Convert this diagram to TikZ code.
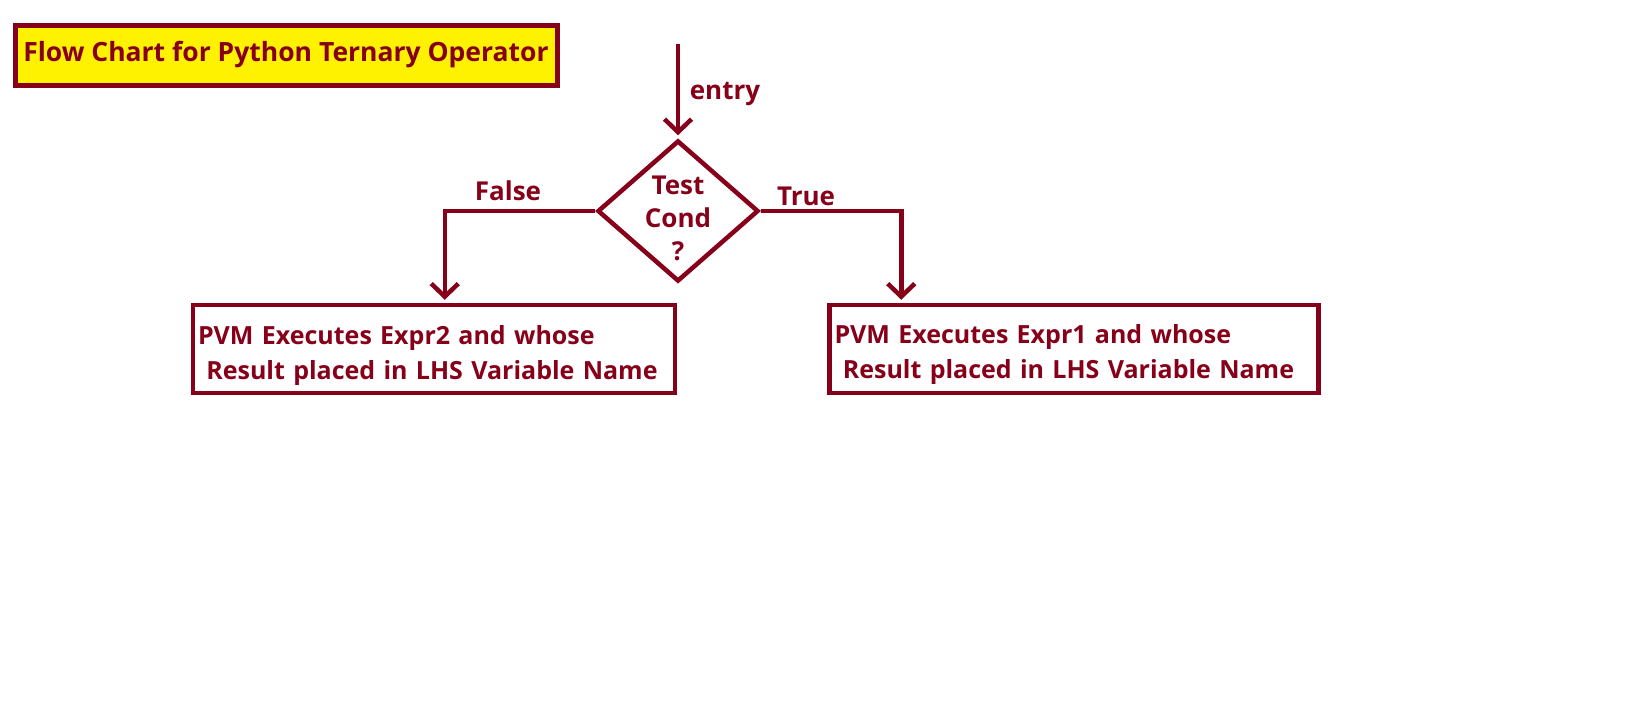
\documentclass[tikz,border=0pt]{standalone}
\usepackage{fontspec}
\setmainfont{Open Sans}
\usetikzlibrary{arrows.meta, positioning, shapes.geometric}
\definecolor{ternred}{RGB}{134,0,25}
\definecolor{ternyellow}{RGB}{255,242,0}

\begin{document}
\begin{tikzpicture}[x=1pt, y=-1pt,
    every node/.style={text=ternred, font=\bfseries\fontsize{26}{33}\selectfont},
    box/.style={draw=ternred, line width=4.5pt, minimum height=88pt, align=left, inner xsep=5pt, font=\bfseries\fontsize{25}{35}\selectfont},
    decision/.style={diamond, draw=ternred, line width=4.5pt, minimum width=161pt, minimum height=141pt, inner sep=0pt},
    arrow/.style={-{Straight Barb[length=13pt, width=27pt]}, draw=ternred, line width=4.5pt, shorten >=3pt}
]
\useasboundingbox (0,0) rectangle (1640,720);

% Nodes
\node[draw=ternred, line width=5pt, fill=ternyellow, minimum width=542pt, minimum height=60pt, font=\bfseries\fontsize{26.5}{30}\selectfont] (title) at (286,55) {Flow Chart for Python Ternary Operator};
\coordinate (start) at (678,44);
\node[decision] (cond) at (678,211) {};
\node[align=center] (condtext) at (678,218) {Test\\Cond\\?};
\node[box, text width=472pt] (lbox) at (434,349) {\rule{0pt}{31pt}PVM Executes Expr2 and whose\\ ~Result placed in LHS Variable Name};
\node[box, text width=479pt] (rbox) at (1074,349) {\rule{0pt}{29pt}PVM Executes Expr1 and whose\\ ~Result placed in LHS Variable Name};
\node (entry) at (725,94) {entry};
\node (false) at (508,191) {False};
\node (true) at (806,196) {True};

% Arrows
\draw[arrow] (start) -- (cond.north);
\draw[arrow] (cond.west) -| ([xshift=254pt]lbox.north west);
\draw[arrow] (cond.east) -| ([xshift=74pt]rbox.north west);

\end{tikzpicture}
\end{document}
